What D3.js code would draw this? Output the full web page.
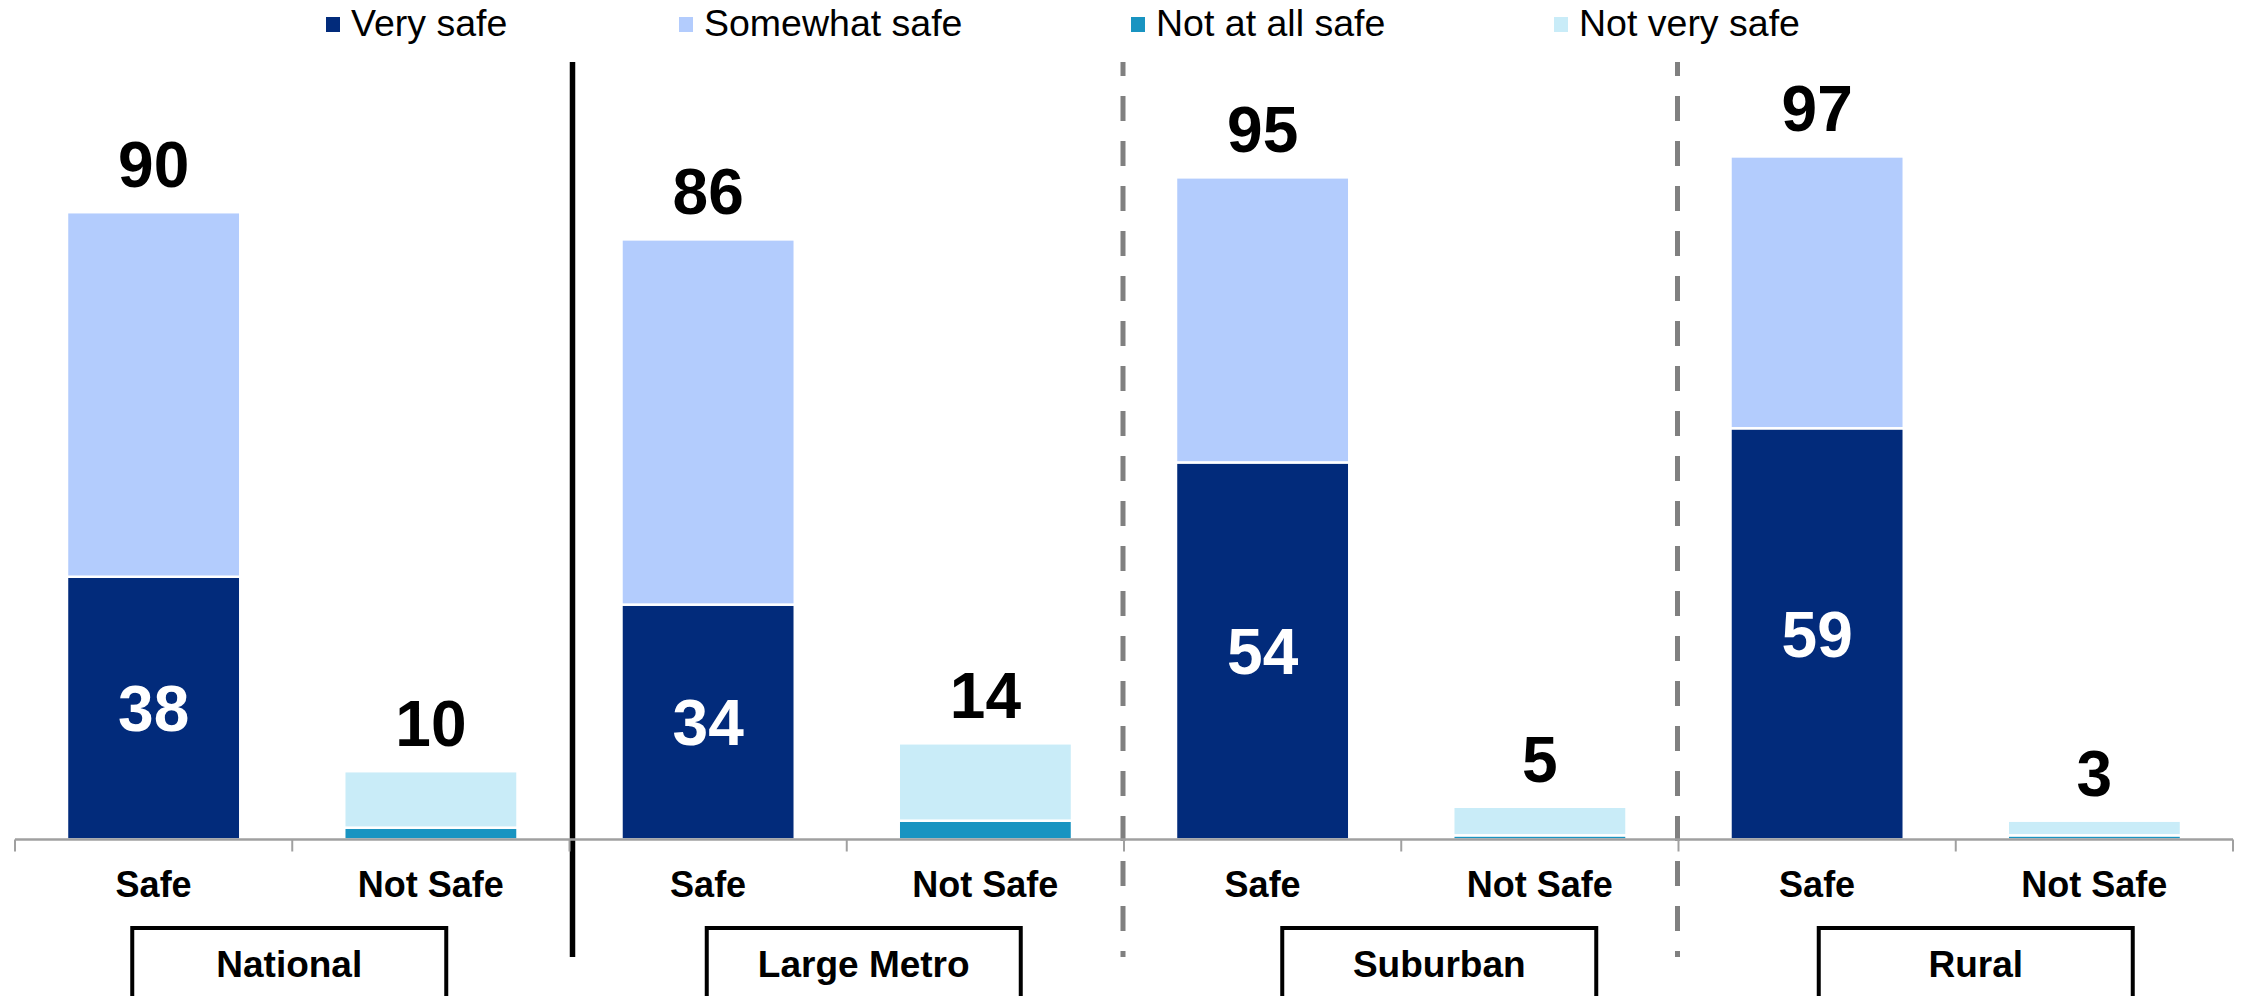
<!DOCTYPE html>
<html>
<head>
<meta charset="utf-8">
<script src="https://cdn.jsdelivr.net/npm/d3@7"></script>
<style>
  html, body { margin: 0; padding: 0; background: #fff; }
  svg { display: block; font-family: "Liberation Sans", Arial, sans-serif; }
</style>
</head>
<body>
<svg id="chart" width="2244" height="996"></svg>
<script>
// ---- Data ----
const groups = ["National", "Large Metro", "Suburban", "Rural"];
const barTypes = ["Safe", "Not Safe"];
const seriesNames = ["Very safe", "Somewhat safe", "Not at all safe", "Not very safe"];
const verySafe     = [37.7, 0, 33.7, 0, 54.1, 0, 59.0, 0];
const somewhatSafe = [52.3, 0, 52.4, 0, 40.9, 0, 39.0, 0];
const notAtAllSafe = [0, 1.7, 0, 2.7, 0, 0.6, 0, 0.6];
const notVerySafe  = [0, 8.1, 0, 11.1, 0, 4.1, 0, 2.1];
const totalLabels  = [90, 10, 86, 14, 95, 5, 97, 3];
const insideLabels = [38, null, 34, null, 54, null, 59, null];

// ---- Build table ----
const cats = [];
groups.forEach((g, gi) => barTypes.forEach((b, bi) => cats.push({ id: gi + "-" + bi, group: g, type: b })));
const rows = cats.map((c, i) => ({
  id: c.id,
  "Very safe": verySafe[i],
  "Not at all safe": notAtAllSafe[i],
  "Somewhat safe": somewhatSafe[i],
  "Not very safe": notVerySafe[i]
}));
const stackKeys = ["Very safe", "Not at all safe", "Somewhat safe", "Not very safe"];
const colors = {
  "Very safe": "#022B7B",
  "Somewhat safe": "#B3CCFD",
  "Not at all safe": "#1994C1",
  "Not very safe": "#C9ECF8"
};

// ---- Layout ----
const svg = d3.select("#chart");
const axisY = 839.5;
const x = d3.scaleBand().domain(cats.map(c => c.id)).range([15, 2233])
  .paddingInner(0.375).paddingOuter(0.1875);
const y = d3.scaleLinear().domain([0, 100]).range([axisY, axisY - 697]);
const step = x.step();
const boundary = i => 15 + i * step;

// Separators
svg.append("line").attr("x1", boundary(2) + 3).attr("x2", boundary(2) + 3)
  .attr("y1", 62).attr("y2", 957).attr("stroke", "#000").attr("stroke-width", 5.5);
[4, 6].forEach(i => {
  svg.append("line").attr("x1", boundary(i) - 1).attr("x2", boundary(i) - 1)
    .attr("y1", 62).attr("y2", 957).attr("stroke", "#808080").attr("stroke-width", 5)
    .attr("stroke-dasharray", "25,20").attr("stroke-dashoffset", 11);
});

// Bars
const stacked = d3.stack().keys(stackKeys)(rows);
const segs = svg.append("g");
stacked.forEach(layer => {
  layer.forEach(d => {
    if (d[1] - d[0] <= 0) return;
    segs.append("rect")
      .attr("x", x(d.data.id))
      .attr("width", x.bandwidth())
      .attr("y", y(d[1]))
      .attr("height", y(d[0]) - y(d[1]))
      .attr("fill", colors[layer.key])
      .attr("stroke", "#fff")
      .attr("stroke-width", 2.5);
  });
});

// Axis
const axisG = svg.append("g").attr("transform", `translate(0,${axisY})`);
axisG.append("line").attr("x1", 15).attr("x2", 2233).attr("y1", 0).attr("y2", 0)
  .attr("stroke", "#A0A0A0").attr("stroke-width", 2.5);
d3.range(cats.length + 1).forEach(i => {
  axisG.append("line").attr("x1", boundary(i)).attr("x2", boundary(i))
    .attr("y1", 0).attr("y2", 12).attr("stroke", "#A0A0A0").attr("stroke-width", 2);
});

// Category labels
cats.forEach(c => {
  svg.append("text")
    .attr("x", x(c.id) + x.bandwidth() / 2).attr("y", 897)
    .attr("text-anchor", "middle").attr("font-size", 36).attr("font-weight", "bold")
    .attr("fill", "#000").text(c.type);
});

// Total labels
cats.forEach((c, i) => {
  const tot = verySafe[i] + somewhatSafe[i] + notAtAllSafe[i] + notVerySafe[i];
  svg.append("text")
    .attr("x", x(c.id) + x.bandwidth() / 2).attr("y", y(tot) - 25)
    .attr("text-anchor", "middle").attr("font-size", 64).attr("font-weight", "bold")
    .attr("fill", "#000").text(totalLabels[i]);
});

// Inside labels
cats.forEach((c, i) => {
  if (insideLabels[i] == null) return;
  const mid = (y(0) + y(verySafe[i])) / 2;
  svg.append("text")
    .attr("x", x(c.id) + x.bandwidth() / 2).attr("y", mid + 23)
    .attr("text-anchor", "middle").attr("font-size", 64).attr("font-weight", "bold")
    .attr("fill", "#fff").text(insideLabels[i]);
});

// Group boxes
const boxOffsets = [-3, 17, 38, 20];
groups.forEach((g, gi) => {
  const cx = (boundary(gi * 2) + boundary(gi * 2 + 2)) / 2 + boxOffsets[gi];
  svg.append("rect").attr("x", cx - 157).attr("y", 928).attr("width", 314).attr("height", 100)
    .attr("fill", "#fff").attr("stroke", "#000").attr("stroke-width", 4);
  svg.append("text").attr("x", cx).attr("y", 977)
    .attr("text-anchor", "middle").attr("font-size", 37).attr("font-weight", "bold")
    .attr("fill", "#000").text(g);
});

// Legend
const legendX = [326, 679, 1131, 1554];
const legendOrder = ["Very safe", "Somewhat safe", "Not at all safe", "Not very safe"];
legendOrder.forEach((k, i) => {
  svg.append("rect").attr("x", legendX[i]).attr("y", 17).attr("width", 14).attr("height", 15)
    .attr("fill", colors[k]);
  svg.append("text").attr("x", legendX[i] + 25).attr("y", 36)
    .attr("font-size", 37.5).attr("fill", "#000").text(k);
});
</script>
</body>
</html>
